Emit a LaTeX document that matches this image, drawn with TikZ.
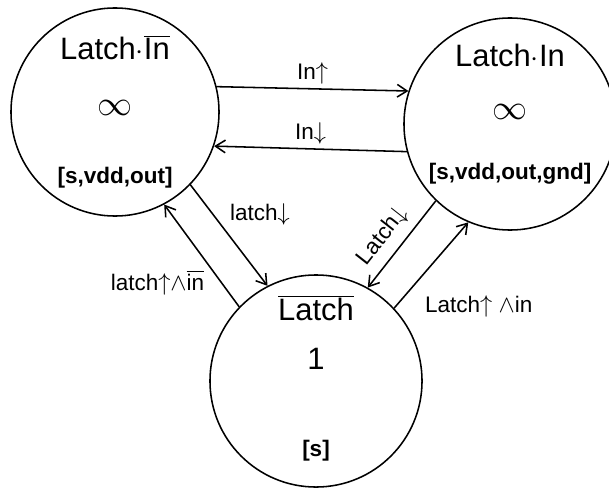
\documentclass[tikz,border=0pt]{standalone}
\usepackage{fontspec}
\setmainfont{Liberation Sans}
\usetikzlibrary{arrows.meta,calc}
\begin{document}
\begin{tikzpicture}[x=0.025cm, y=0.025cm, line join=round, line cap=round, >={Straight Barb[length=7pt,width=9pt]},
	state/.style={draw, line width=1.1pt, circle, inner sep=0pt},
	statename/.style={font=\fontsize{22}{26}\selectfont},
	sig/.style={font=\fontsize{16}{19}\selectfont\bfseries},
	cost/.style={font=\fontsize{44}{44}\selectfont},
	edgelbl/.style={font=\fontsize{16}{19}\selectfont, inner sep=3pt},
	trans/.style={->, line width=1.1pt}]
	\useasboundingbox (0,0) rectangle (609,489);
	% states
	\node[state, minimum size=5.2cm] (inbar) at (115,377) {};
	\node[state, minimum size=5.3cm] (in) at (510,365) {};
	\node[state, minimum size=5.3cm] (latch) at (316,108) {};
	
	\node[statename] (inbarname) at ($(inbar)+(0,64)$) {Latch$\cdot\overline{\mbox{In}}$};
	\node[cost] (inbarcost) at ($(inbar)+(0,4)$) {$\infty$};
	\node[sig] (inbarsig) at ($(inbar)+(0,-66)$) {[s,vdd,out]};
	
	\node[statename] (inname) at ($(in)+(0,69)$) {Latch$\cdot$In};
	\node[cost] (incost) at ($(in)+(0,12)$) {$\infty$};
	\node[sig] (insig) at ($(in)+(0,-50)$) {[s,vdd,out,gnd]};
	
	\node[statename] (latchname) at ($(latch)+(0,73)$) {$\overline{\mbox{Latch}}$};
	\node[statename] (latchcost) at ($(latch)+(0,22)$) {1};
	\node[sig] (latchsig) at ($(latch)+(0,-70)$) {[s]};
	
	% transitions
	\draw[trans] (inbar.14) -- node[edgelbl, above] {In$\uparrow$} (in.162);
	\draw[trans] (in.195) -- node[edgelbl, above] {In$\downarrow$} (inbar.-19);
	\draw[trans] (inbar.-44) -- node[edgelbl, above right, pos=0.45] {latch$\downarrow$} (latch.117);
	\draw[trans] (latch.136) -- node[edgelbl, below left, pos=0.4] {latch$\mathord{\uparrow}\mathord{\wedge}\overline{\mbox{in}}$} (inbar.-62);
	\draw[trans] (in.226) -- node[edgelbl, sloped, above=3pt, pos=0.55] {Latch$\downarrow$} (latch.61);
	\draw[trans] (latch.43) -- node[edgelbl, below right, pos=0.2, xshift=8pt] {Latch$\uparrow$ $\mathord{\wedge}$in} (in.247);
\end{tikzpicture}
\end{document}
